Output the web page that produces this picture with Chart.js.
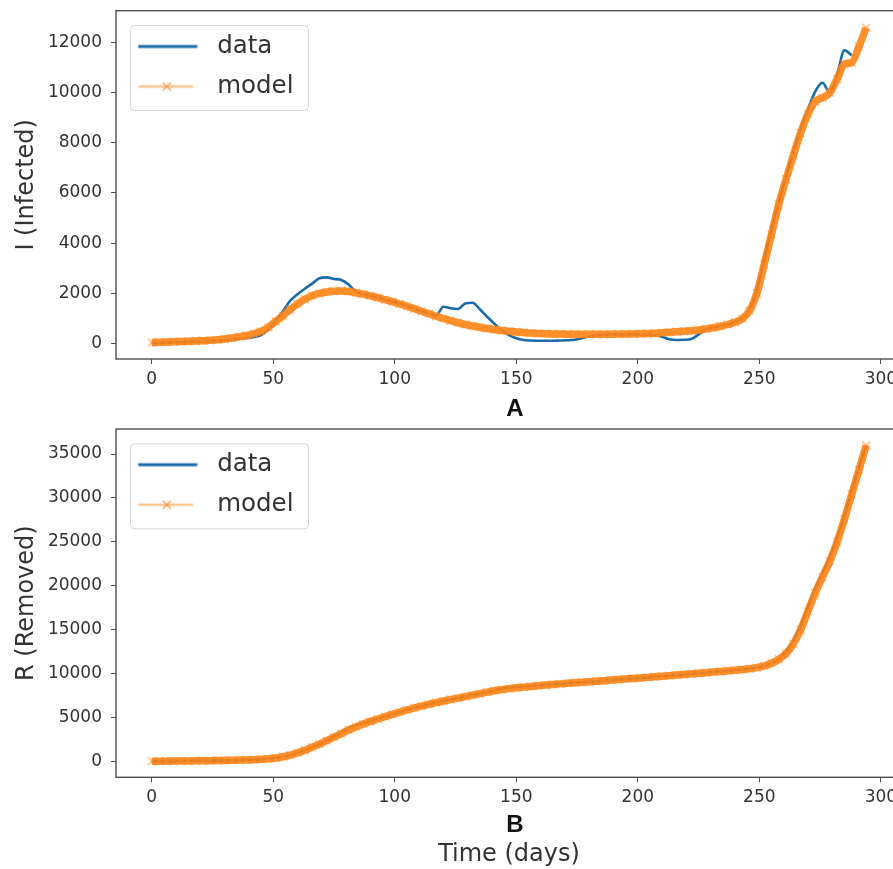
<!DOCTYPE html>
<html>
<head>
<meta charset="utf-8">
<script src="https://cdn.jsdelivr.net/npm/chart.js@4.4.1/dist/chart.umd.min.js"></script>
<style>
  body { margin: 0; background: #fff; }
  #wrap { position: relative; width: 893px; height: 869px; overflow: hidden; background: #fff; }
  canvas { position: absolute; left: 0; }
  .panel { position: absolute; left: 495px; width: 40px; text-align: center;
           font: bold 24px "Liberation Sans", Arial, sans-serif; line-height: 24px; color: #111; }
</style>
</head>
<body>
<div id="wrap">
  <canvas id="chartI" width="920" height="420" style="top:0;width:920px;height:420px"></canvas>
  <canvas id="chartR" width="920" height="449" style="top:420px;width:920px;height:449px"></canvas>
  <div class="panel" style="top:396px">A</div>
  <div class="panel" style="top:812px">B</div>
</div>
<script>
// day numbers of the samples (every 3rd day)
const days = [0, 3, 6, 9, 12, 15, 18, 21, 24, 27, 30, 33, 36, 39, 42, 45, 48, 51, 54, 57,
    60, 63, 66, 69, 72, 75, 78, 81, 84, 87, 90, 93, 96, 99, 102, 105, 108, 111, 114, 117,
    120, 123, 126, 129, 132, 135, 138, 141, 144, 147, 150, 153, 156, 159, 162, 165, 168, 171, 174, 177,
    180, 183, 186, 189, 192, 195, 198, 201, 204, 207, 210, 213, 216, 219, 222, 225, 228, 231, 234, 237,
    240, 243, 246, 249, 252, 255, 258, 261, 264, 267, 270, 273, 276, 279, 282, 285, 288, 291, 294];

// I (infected): observed, ends at day 288
const infectedData = [0, 10, 20, 30, 40, 50, 60, 70, 80, 100, 120, 150, 180, 210, 250, 330, 560, 900, 1280, 1700,
    1960, 2180, 2380, 2600, 2630, 2570, 2530, 2350, 2050, 1970, 1900, 1830, 1750, 1670, 1580, 1490, 1390, 1290, 1190, 1100,
    1460, 1400, 1370, 1590, 1620, 1360, 1060, 780, 520, 330, 200, 130, 110, 100, 100, 100, 110, 120, 140, 200,
    280, 320, 340, 350, 350, 350, 350, 350, 340, 320, 260, 160, 130, 140, 170, 350, 560, 630, 690, 760,
    860, 1000, 1350, 2150, 3350, 4550, 5650, 6650, 7650, 8550, 9350, 10050, 10400, 10000, 10700, 11700, 11500];

const infectedModel = [30, 40, 50, 60, 70, 80, 90, 100, 120, 140, 170, 210, 260, 310, 380, 480, 640, 870, 1100, 1350,
    1570, 1760, 1900, 1990, 2050, 2080, 2090, 2070, 2020, 1960, 1890, 1820, 1740, 1660, 1570, 1480, 1380, 1280, 1180, 1080,
    990, 900, 820, 750, 690, 640, 590, 550, 510, 480, 450, 430, 410, 395, 385, 375, 370, 365, 362, 360,
    360, 360, 362, 364, 366, 370, 375, 380, 390, 400, 420, 440, 460, 480, 500, 530, 570, 620, 680, 750,
    840, 980, 1300, 2000, 3150, 4350, 5550, 6550, 7500, 8400, 9150, 9650, 9800, 10000, 10550, 11150, 11200, 11850, 12600];

// R (removed)
const removedData = [50, 55, 60, 65, 70, 80, 90, 100, 110, 125, 140, 160, 180, 200, 230, 270, 330, 420, 560, 750,
    1000, 1300, 1650, 2000, 2400, 2900, 3350, 3800, 4150, 4420, 4650, 4880, 5120, 5380, 5640, 5890, 6110, 6320, 6520, 6720,
    6900, 7070, 7230, 7400, 7570, 7740, 7910, 8100, 8330, 8430, 8500, 8560, 8600, 8660, 8720, 8790, 8850, 8910, 8970, 9030,
    9090, 9150, 9210, 9280, 9340, 9410, 9470, 9530, 9590, 9660, 9720, 9790, 9850, 9920, 9990, 10060, 10120, 10190, 10260, 10330,
    10400, 10480, 10570, 10700, 10900, 11200, 11650, 12500, 13800, 15500, 17600, 19700, 21500, 23300, 25500, 28000, 30800, 33500, 36000];

const removedModel = [50, 55, 60, 65, 70, 80, 90, 100, 110, 125, 140, 160, 180, 200, 230, 270, 330, 420, 560, 750,
    1000, 1300, 1650, 2000, 2400, 2800, 3200, 3600, 3950, 4280, 4580, 4850, 5120, 5380, 5640, 5890, 6110, 6320, 6520, 6720,
    6900, 7070, 7230, 7400, 7570, 7740, 7910, 8070, 8200, 8310, 8400, 8480, 8560, 8640, 8710, 8780, 8850, 8910, 8970, 9030,
    9090, 9150, 9210, 9280, 9340, 9410, 9470, 9530, 9590, 9660, 9720, 9790, 9850, 9920, 9990, 10060, 10120, 10190, 10260, 10330,
    10400, 10480, 10570, 10700, 10900, 11200, 11650, 12300, 13400, 15000, 17100, 19200, 21000, 22800, 25000, 27600, 30400, 33200, 36000];

const xTicks = [0, 50, 100, 150, 200, 250, 300];
const yTicksI = [0, 2000, 4000, 6000, 8000, 10000, 12000];
const yTicksR = [0, 5000, 10000, 15000, 20000, 25000, 30000, 35000];

const BLUE = "#1a6ca9";
const ORANGE = "rgba(255, 127, 14, 0.88)";
const AXIS = "#4d4d4d";
const TEXT = "#333";

Chart.defaults.font.family = "'DejaVu Sans', sans-serif";

// legend samples: a line, and for the model a line with an x marker
function legendIcon(kind) {
    const c = document.createElement("canvas");
    c.width = 73;
    c.height = 20;
    const g = c.getContext("2d");
    g.lineCap = "butt";
    if (kind === "data") {
        g.strokeStyle = BLUE;
        g.lineWidth = 3;
        g.beginPath(); g.moveTo(6.5, 10); g.lineTo(65.5, 10); g.stroke();
    } else {
        g.strokeStyle = "rgba(255, 127, 14, 0.45)";
        g.lineWidth = 2.5;
        g.beginPath(); g.moveTo(6.5, 10); g.lineTo(61.5, 10); g.stroke();
        g.strokeStyle = "rgba(255, 127, 14, 0.7)";
        g.lineWidth = 1.5;
        g.beginPath();
        g.moveTo(31, 6); g.lineTo(39, 14);
        g.moveTo(39, 6); g.lineTo(31, 14);
        g.stroke();
    }
    return c;
}
const icons = { data: legendIcon("data"), model: legendIcon("model") };

// matplotlib-like frame: full box around the plot and a rounded legend box
const framePlugin = {
    id: "frame",
    beforeDraw(chart) {
        const { ctx, chartArea: a } = chart;
        const x = a.left + 14, y = a.top + 14.3, w = 178, h = 85, r = 4;
        ctx.save();
        ctx.beginPath();
        ctx.roundRect(x + 0.5, y + 0.5, w, h, r);
        ctx.fillStyle = "#fff";
        ctx.fill();
        ctx.strokeStyle = "#d6d6d6";
        ctx.lineWidth = 1;
        ctx.stroke();
        ctx.restore();
    },
    afterDraw(chart) {
        const { ctx, chartArea: a } = chart;
        ctx.save();
        ctx.strokeStyle = AXIS;
        ctx.lineWidth = 1.4;
        ctx.strokeRect(a.left, a.top, a.right - a.left, a.bottom - a.top);
        ctx.restore();
    },
};

function points(values) {
    return values.map((v, i) => ({ x: days[i], y: v }));
}

function drawPanel(id, cfg) {
    return new Chart(document.getElementById(id), {
        type: "line",
        data: {
            datasets: [
                {
                    label: "data",
                    data: points(cfg.data),
                    borderColor: BLUE,
                    borderWidth: 2.6,
                    pointRadius: 0,
                    cubicInterpolationMode: "monotone",
                    order: 2,
                },
                {
                    label: "model",
                    data: points(cfg.model),
                    borderColor: ORANGE,
                    borderWidth: 7.5,
                    pointStyle: "crossRot",
                    pointRadius: 5.5,
                    pointBorderColor: "rgba(255, 140, 40, 0.55)",
                    pointBorderWidth: 1.5,
                    cubicInterpolationMode: "monotone",
                    order: 1,
                },
            ],
        },
        options: {
            responsive: false,
            animation: false,
            devicePixelRatio: 1,
            layout: { padding: { top: cfg.top, right: 18, bottom: 0, left: 0 } },
            plugins: {
                tooltip: { enabled: false },
                legend: {
                    position: "chartArea",
                    align: "start",
                    // an empty title pushes the entries down inside the frame
                    title: { display: true, text: " ", padding: 0, font: { size: cfg.top + 8, lineHeight: 1 } },
                    labels: {
                        usePointStyle: true,
                        pointStyleWidth: 73.4,
                        padding: 15.5,
                        font: { size: 24.5 },
                        color: TEXT,
                        generateLabels: () => ["data", "model"].map((name, i) => ({
                            text: name,
                            pointStyle: icons[name],
                            fontColor: TEXT,
                            fillStyle: "transparent",
                            strokeStyle: "transparent",
                            lineWidth: 0,
                            hidden: false,
                            datasetIndex: i,
                        })),
                    },
                },
            },
            scales: {
                x: {
                    type: "linear",
                    min: -14.7,
                    max: 308.7,
                    afterBuildTicks: (s) => { s.ticks = xTicks.map((v) => ({ value: v })); },
                    afterFit: (s) => { s.height = cfg.xHeight; s.paddingLeft = 0; s.paddingRight = 0; },
                    grid: { drawOnChartArea: false, drawTicks: true, tickLength: 5, color: AXIS },
                    border: { display: false },
                    ticks: { autoSkip: false, maxRotation: 0, padding: 5, color: TEXT, font: { size: 17 }, callback: (v) => String(v) },
                    title: cfg.xTitle
                        ? { display: true, text: cfg.xTitle, color: TEXT, font: { size: 24 }, padding: { top: 0, bottom: 0 } }
                        : { display: false },
                },
                y: {
                    min: cfg.yMin,
                    max: cfg.yMax,
                    afterBuildTicks: (s) => { s.ticks = cfg.yTicks.map((v) => ({ value: v })); },
                    afterFit: (s) => { s.width = 116; s.paddingTop = 0; s.paddingBottom = 0; },
                    grid: { drawOnChartArea: false, drawTicks: true, tickLength: 5, color: AXIS },
                    border: { display: false },
                    ticks: { autoSkip: false, padding: 9, color: TEXT, font: { size: 17 }, callback: (v) => String(v) },
                    title: { display: true, text: cfg.yTitle, color: TEXT, font: { size: 24 }, padding: { top: 12.6, bottom: 0 } },
                },
            },
        },
        plugins: [framePlugin],
    });
}

drawPanel("chartI", {
    data: infectedData,
    model: infectedModel,
    yMin: -627,
    yMax: 13277,
    yTicks: yTicksI,
    yTitle: "I (Infected)",
    top: 10.7,
    xHeight: 61,
});

drawPanel("chartR", {
    data: removedData,
    model: removedModel,
    yMin: -1780,
    yMax: 37850,
    yTicks: yTicksR,
    yTitle: "R (Removed)",
    xTitle: "Time (days)",
    top: 9,
    xHeight: 91.7,
});
</script>
</body>
</html>
